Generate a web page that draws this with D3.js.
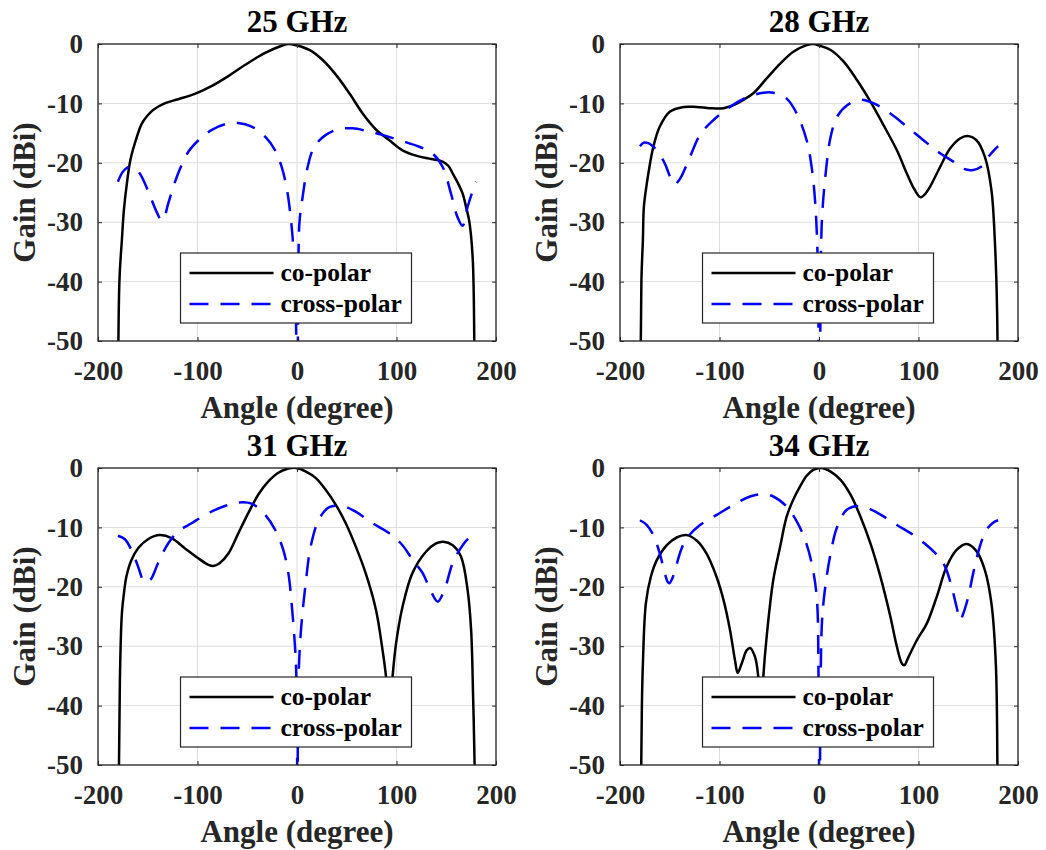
<!DOCTYPE html>
<html><head><meta charset="utf-8">
<script src="https://cdn.jsdelivr.net/npm/d3@7"></script>
<style>
html,body{margin:0;padding:0;background:#fff;}
svg{display:block;}
text{font-family:"Liberation Serif","Times New Roman",serif;font-weight:bold;}
</style></head><body>
<svg id="chart" width="1046" height="850"></svg>
<script>
// ---------------- data ----------------
const titles = ["25 GHz", "28 GHz", "31 GHz", "34 GHz"];
const xTicks = [-200, -100, 0, 100, 200];
const yTicks = [0, -10, -20, -30, -40, -50];
const seriesNames = ["co-polar", "cross-polar"];
const xLabel = "Angle (degree)";
const yLabel = "Gain (dBi)";

// [angle (deg), gain (dBi)]
const co25 = [[-180,-75],[-178.5,-40],[-176,-33],[-174,-28],[-171,-23.5],[-167.4,-19.5],[-162,-16.2],[-156,-13.4],[-150,-12],[-144.6,-11.1],[-133,-10],[-119.5,-9.3],[-102.7,-8.4],[-86,-7.1],[-69,-5.4],[-52,-3.5],[-32,-1.5],[-15.4,-0.3],[-9,0],[-1,-0.2],[12.4,-1],[25.8,-2.7],[39.2,-5.2],[52.6,-8.3],[66,-11.7],[79.4,-14.4],[92.8,-16.2],[106,-17.9],[119.6,-18.8],[133,-19.3],[146.4,-19.8],[152,-20.5],[156.5,-21.8],[162,-23.5],[166.5,-25.2],[170,-27.5],[173,-29.7],[176.5,-35.8],[178.2,-50],[179,-75]];
const cross25 = [[-180,-23.2],[-175,-21.5],[-169,-20.7],[-164,-20.9],[-158,-21.8],[-150,-24.6],[-141,-28.3],[-136,-29.7],[-133,-29],[-129.5,-26.9],[-119.5,-21.8],[-109,-18.1],[-99,-16.2],[-86,-14.5],[-72.5,-13.5],[-59,-13.3],[-45.6,-13.9],[-32,-15.6],[-22,-17.9],[-15.4,-20.7],[-10,-24.6],[-6,-29.7],[-3.7,-34.2],[-1.5,-42],[0.3,-70],[1.3,-40],[2.5,-30],[5.7,-25.7],[10.7,-20.7],[17.4,-17.3],[29,-15.3],[42.5,-14.3],[56,-14.2],[69.3,-14.6],[86,-15.3],[102.9,-16.2],[123,-17.3],[136,-18.4],[146.4,-20.7],[154.8,-25.2],[161,-29],[166.5,-30.6],[171.5,-27.4],[176,-25],[180,-23.2]];

const co28 = [[-180,-75],[-178.5,-40],[-177,-33],[-176,-27.4],[-173.5,-24],[-171.5,-21.8],[-166.5,-17.3],[-160,-13.9],[-150,-11.4],[-136,-10.6],[-123,-10.6],[-109.5,-10.8],[-96,-10.8],[-86,-10.3],[-76,-9.4],[-66,-8.3],[-52.6,-5.8],[-39,-3.3],[-25.8,-1.3],[-12.4,-0.2],[-6,0],[1,-0.3],[11.7,-1],[25,-3],[38.3,-6.1],[51.7,-9.7],[65,-13.7],[78.3,-17.9],[88.3,-21.8],[96,-24.5],[102,-25.8],[107,-25.2],[111.7,-24],[121.7,-20.7],[131.7,-17.6],[141.7,-15.9],[149,-15.5],[158.3,-16.2],[166.7,-19],[173.3,-24.6],[176.7,-33],[179,-45],[180,-75]];
const cross28 = [[-180,-17.2],[-176,-16.6],[-171.5,-16.7],[-167,-17.2],[-163,-17.9],[-155,-20.1],[-149,-22.6],[-145,-23.6],[-141,-23],[-138,-22.2],[-129.6,-19],[-119.6,-15.3],[-106,-12.8],[-89.5,-10.6],[-72.7,-9],[-56,-8.2],[-46,-8.2],[-32.5,-9.2],[-22.4,-11.7],[-12.4,-16.2],[-7.4,-20.7],[-4,-26.3],[-1.5,-35.3],[0.5,-70],[2,-35],[3.3,-28.5],[6.7,-21.8],[11.7,-15.6],[18.3,-12.2],[28.3,-10.3],[41.7,-9.4],[55,-10],[71.7,-11.7],[88.3,-13.9],[105,-16.2],[121.7,-18.4],[135,-19.8],[145,-21],[155,-21.2],[165,-20.4],[171.7,-18.7],[180,-17.2]];

const co31 = [[-180,-75],[-178,-35.8],[-176,-24.5],[-173.5,-20.5],[-171.5,-18.3],[-166.4,-15.5],[-159.7,-13.5],[-149.7,-12],[-138,-11.3],[-126,-11.8],[-112.8,-13.5],[-99.3,-15.2],[-89,-16.3],[-84,-16.5],[-77.5,-16],[-69,-14.4],[-59,-11],[-49,-7.6],[-39,-4.5],[-29,-2.3],[-18.8,-0.8],[-8.7,-0.1],[-1,0],[9,-0.6],[19,-1.7],[29,-3.7],[39,-6.2],[49,-9.3],[59,-13.2],[69,-17.7],[79.4,-23.9],[86,-30.7],[89.5,-35.2],[92.5,-43],[96,-35.2],[99.5,-29.6],[106,-23.4],[116,-17.7],[129.6,-14.1],[139.7,-12.7],[147,-12.4],[156.5,-13],[164.8,-14.9],[171.5,-20.6],[175,-27.3],[177,-38.6],[178.5,-50],[179.5,-75]];
const cross31 = [[-180,-11.4],[-173,-12],[-166.4,-13.8],[-159.7,-16.6],[-155,-18.8],[-152,-19.3],[-149,-19],[-146.3,-18.6],[-139.6,-16],[-129.5,-12.7],[-119.5,-10.7],[-106,-9.3],[-89,-7.6],[-72.5,-6.4],[-59,-5.8],[-45.6,-6],[-32,-7.9],[-22,-10.4],[-13.8,-13.8],[-8.7,-17.7],[-5.4,-22.8],[-2,-30.1],[-0.5,-36],[0.5,-70],[1.5,-36],[4,-27.3],[9,-19],[14,-13],[22.5,-8.5],[32.5,-6.6],[46,-6.4],[59.3,-7.4],[76,-9.3],[92.8,-11],[106,-13],[116.3,-15.5],[126.3,-17.7],[134.7,-20.8],[141.4,-22.5],[148,-20.6],[156.5,-16],[166.5,-13],[173,-11.8],[180,-11.4]];

const co34 = [[-180,-75],[-178,-40],[-177,-33],[-174,-22.8],[-169,-18.3],[-163,-15.5],[-153,-13],[-143,-11.7],[-133,-11.3],[-123,-12.2],[-113,-14.4],[-103,-18.3],[-96,-22.2],[-89.4,-27.3],[-84.4,-32.4],[-81.7,-34.5],[-77.7,-32.9],[-72.7,-30.7],[-69.3,-30.3],[-64.3,-31.8],[-61,-35.2],[-58.5,-43],[-56,-35.2],[-52.6,-28.4],[-46,-18.9],[-39,-13.2],[-32.5,-8.2],[-25.8,-5.3],[-19,-3.1],[-12.4,-1.3],[-5.7,-0.3],[2,0],[11.7,-0.6],[21.7,-2],[31.7,-4.5],[41.7,-8.2],[51.7,-12.7],[61.7,-18.3],[71.7,-25],[78.3,-30.1],[83.3,-32.9],[85.7,-33.2],[90,-31.8],[98.3,-29],[108.3,-26.2],[118.3,-21.7],[128.3,-16.6],[138.3,-13.8],[148.3,-12.8],[158.3,-14],[166.7,-17.2],[173.3,-22.8],[177.7,-32.9],[179.3,-50],[180,-75]];
const cross34 = [[-180,-8.8],[-173,-9.6],[-166.5,-11.3],[-160,-14.4],[-155,-17.7],[-152,-19.2],[-150.4,-19.4],[-147.5,-18.6],[-144.7,-17.2],[-138,-13.5],[-131.3,-11.5],[-119.6,-9.6],[-102.8,-7.9],[-86,-6.2],[-69.3,-4.8],[-57.6,-4.4],[-46,-4.8],[-32.5,-6.5],[-22.4,-9],[-14,-12.1],[-7.4,-16],[-2.3,-21.7],[-0.5,-35],[0.5,-70],[1.7,-35],[3.3,-25],[6.7,-19.5],[11.7,-14.4],[18.3,-9.9],[28.3,-7],[41.7,-6.4],[58.3,-7.5],[78.3,-9.6],[95,-11.3],[108.3,-13],[118.3,-14.6],[126.7,-16.6],[133.3,-20],[138.3,-23.4],[142,-25.6],[145,-24.5],[150,-21.7],[155,-17.7],[161.7,-13.2],[168.3,-10.4],[175,-9.2],[180,-8.8]];

const coSeries = [co25, co28, co31, co34];
const crossSeries = [cross25, cross28, cross31, cross34];

// ---------------- layout ----------------
const svg = d3.select("#chart");
svg.append("rect").attr("width", 1046).attr("height", 850).attr("fill", "#fff");
const W = 398, H = 297;
const origins = [[98, 44], [620, 44], [98, 468], [620, 468]];
const axisColor = "#262626";
const fmt = d => String(d); // plain hyphen-minus like the original

origins.forEach(([left, top], i) => {
  const g = svg.append("g").attr("transform", `translate(${left},${top})`);
  const x = d3.scaleLinear().domain([-200, 200]).range([0, W]);
  const y = d3.scaleLinear().domain([-50, 0]).range([H, 0]);

  // grid
  g.append("g").selectAll("line").data(xTicks).join("line")
    .attr("x1", d => x(d)).attr("x2", d => x(d)).attr("y1", 0).attr("y2", H)
    .attr("stroke", "#dedede").attr("stroke-width", 1);
  g.append("g").selectAll("line").data(yTicks).join("line")
    .attr("y1", d => y(d)).attr("y2", d => y(d)).attr("x1", 0).attr("x2", W)
    .attr("stroke", "#dedede").attr("stroke-width", 1);

  const clipId = "clip" + i;
  g.append("clipPath").attr("id", clipId).append("rect")
    .attr("x", 0).attr("y", 0).attr("width", W).attr("height", H);

  const line = d3.line().x(d => x(d[0])).y(d => y(d[1]))
    .curve(d3.curveCatmullRom.alpha(0.5));

  const plot = g.append("g").attr("clip-path", `url(#${clipId})`);
  plot.append("path").datum(coSeries[i]).attr("d", line)
    .attr("fill", "none").attr("stroke", "#000").attr("stroke-width", 2.5);
  plot.append("path").datum(crossSeries[i]).attr("d", line)
    .attr("fill", "none").attr("stroke", "#0000ff").attr("stroke-width", 2.5)
    .attr("stroke-dasharray", "19,12");

  // axes
  const styleAxis = sel => {
    sel.select(".domain").remove();
    sel.selectAll(".tick line").attr("stroke", axisColor).attr("stroke-width", 1);
    sel.selectAll(".tick text").attr("fill", axisColor)
      .style("font-family", '"Liberation Serif","Times New Roman",serif')
      .style("font-weight", "bold").style("font-size", "27px");
  };
  g.append("g").attr("transform", `translate(0,${H})`)
    .call(d3.axisBottom(x).tickValues(xTicks).tickFormat(fmt).tickSize(-4).tickPadding(20)).call(styleAxis);
  g.append("g")
    .call(d3.axisTop(x).tickValues(xTicks).tickSize(-4).tickFormat("")).call(styleAxis);
  g.append("g")
    .call(d3.axisLeft(y).tickValues(yTicks).tickFormat(fmt).tickSize(-4).tickPadding(15)).call(styleAxis);
  g.append("g").attr("transform", `translate(${W},0)`)
    .call(d3.axisRight(y).tickValues(yTicks).tickSize(-4).tickFormat("")).call(styleAxis);

  g.append("rect").attr("x", 0).attr("y", 0).attr("width", W).attr("height", H)
    .attr("fill", "none").attr("stroke", axisColor).attr("stroke-width", 1.3);

  // title and labels
  g.append("text").attr("x", W / 2).attr("y", -12).attr("text-anchor", "middle")
    .attr("fill", "#000").style("font-size", "31px").text(titles[i]);
  g.append("text").attr("x", W / 2).attr("y", H + 77).attr("text-anchor", "middle")
    .attr("fill", axisColor).style("font-size", "31px").text(xLabel);
  g.append("text").attr("transform", `translate(-63,${H / 2}) rotate(-90)`)
    .attr("text-anchor", "middle").attr("fill", axisColor)
    .style("font-size", "31px").text(yLabel);

  // legend
  const lw = 231, lh = 70;
  const lx = W / 2 - 1 - lw / 2, ly = 209;
  const leg = g.append("g").attr("transform", `translate(${lx},${ly})`);
  leg.append("rect").attr("width", lw).attr("height", lh)
    .attr("fill", "#fff").attr("stroke", axisColor).attr("stroke-width", 1.2);
  seriesNames.forEach((name, k) => {
    const ry = 20 + k * 31;
    leg.append("line").attr("x1", 9).attr("x2", 93).attr("y1", ry).attr("y2", ry)
      .attr("stroke", k === 0 ? "#000" : "#0000ff").attr("stroke-width", 2.5)
      .attr("stroke-dasharray", k === 0 ? null : "19,12");
    leg.append("text").attr("x", 100).attr("y", ry).attr("dy", "0.3em")
      .attr("fill", "#000").style("font-size", "25.5px").text(name);
  });
});
</script>
</body></html>
